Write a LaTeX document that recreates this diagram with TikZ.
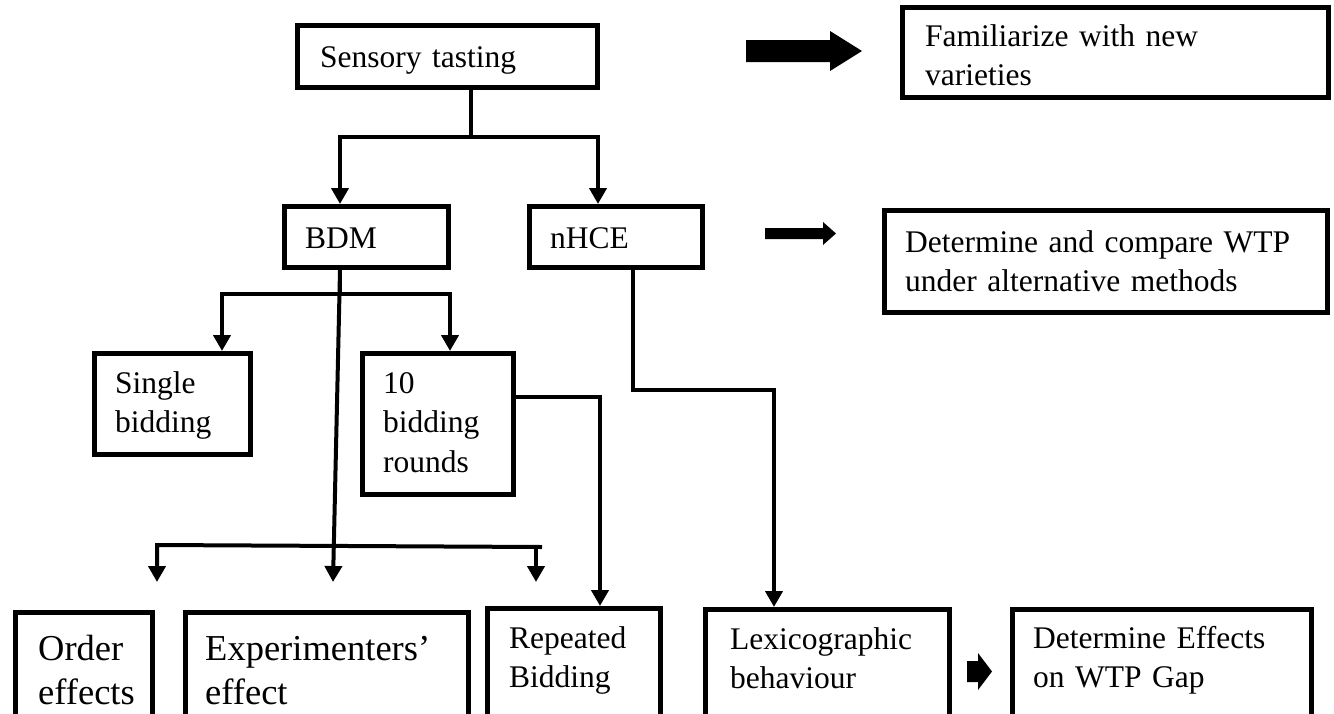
\documentclass[tikz,border=0pt]{standalone}
\usepackage{fontspec}
\setmainfont{Liberation Serif}
\usetikzlibrary{arrows.meta}
\begin{document}
\begin{tikzpicture}[x=1pt,y=-1pt,
  box/.style={draw, line width=5pt, rectangle, inner sep=0pt},
  txt/.style={anchor=base west, inner sep=0pt, align=left, text width=420pt, font=\fontsize{31.5}{39.5}\selectfont},
  bigtxt/.style={anchor=base west, inner sep=0pt, align=left, text width=300pt, font=\fontsize{36.5}{44}\selectfont},
  conn/.style={line width=4pt},
  arr/.style={line width=4pt, -{Triangle[width=17pt,length=16pt]}},
  blockarrow/.style={fill=black},
]
\clip (0,0) rectangle (1334,713);

% boxes
\node[box, minimum width=300pt, minimum height=62pt] (sens) at (447.5,56.5) {};
\node[box, minimum width=426pt, minimum height=90pt] (fam) at (1115.5,52) {};
\node[box, minimum width=164pt, minimum height=61pt] (bdm) at (366.5,237) {};
\node[box, minimum width=173pt, minimum height=61pt] (nhce) at (616,237) {};
\node[box, minimum width=443pt, minimum height=102pt] (wtp) at (1106,261.5) {};
\node[box, minimum width=156pt, minimum height=101pt] (single) at (172.5,404) {};
\node[box, minimum width=151pt, minimum height=141pt] (ten) at (438,424) {};
\node[box, minimum width=137pt, minimum height=115pt] (order) at (84,670) {};
\node[box, minimum width=283pt, minimum height=115pt] (exper) at (327,670) {};
\node[box, minimum width=173pt, minimum height=119pt] (rep) at (574,668) {};
\node[box, minimum width=244pt, minimum height=118pt] (lex) at (827.5,668.5) {};
\node[box, minimum width=299pt, minimum height=118pt] (eff) at (1162,668.5) {};

% texts
\node[txt] (sensT) at (320,67) {Sensory tasting};
\node[txt] (famT) at (925,46) {Familiarize with new\\varieties};
\node[txt] (bdmT) at (305,248) {BDM};
\node[txt] (nhceT) at (550,248) {nHCE};
\node[txt] (wtpT) at (905,252) {Determine and compare WTP\\under alternative methods};
\node[txt] (singleT) at (115,393) {Single\\bidding};
\node[txt] (tenT) at (383,393) {10\\bidding\\rounds};
\node[bigtxt] (orderT) at (38,660) {Order\\effects};
\node[bigtxt] (experT) at (205,660) {Experimenters’\\effect};
\node[txt] (repT) at (509,648) {Repeated\\Bidding};
\node[txt] (lexT) at (730,649) {Lexicographic\\behaviour};
\node[txt] (effT) at (1033,648) {Determine Effects\\on WTP Gap};

% junctions
\coordinate (j1) at (471,137);
\coordinate (j2) at (340,294);
\coordinate (j3) at (633,390);
\coordinate (midTip) at (333,582);
\coordinate (bl) at (157,545);
\coordinate (br) at (542,547);
\coordinate (brd) at (536,546);

% connectors
\draw[conn] (sens.south -| j1) -- (j1);
\draw[arr] (j1) -| ([xshift=-26.5pt]bdm.north);
\draw[arr] (j1) -| ([xshift=-18pt]nhce.north);

\draw[conn] (bdm.south -| j2) -- (j2);
\draw[arr] (j2) -| ([xshift=49.5pt]single.north);
\draw[arr] (j2) -| ([xshift=12pt]ten.north);

\draw[arr] (bdm.south -| j2) -- (midTip);
\draw[arr] (br) -- (bl) -- (bl |- midTip);
\draw[arr] (brd) -- (brd |- midTip);

\draw[arr] ([yshift=27pt]ten.east) -| ([xshift=26pt]rep.north);
\draw[arr] (nhce.south -| j3) -- (j3) -| ([xshift=-53.5pt]lex.north);

% block arrows
\fill[blockarrow] (746,40) -- (830,40) -- (830,31) -- (862,51) -- (830,71) -- (830,62) -- (746,62) -- cycle;
\fill[blockarrow] (765,228) -- (823,228) -- (823,222) -- (836,233.5) -- (823,245) -- (823,239) -- (765,239) -- cycle;
\fill[blockarrow] (967,661) -- (978,661) -- (978,653) -- (992,671.5) -- (978,690) -- (978,682) -- (967,682) -- cycle;
\end{tikzpicture}
\end{document}
